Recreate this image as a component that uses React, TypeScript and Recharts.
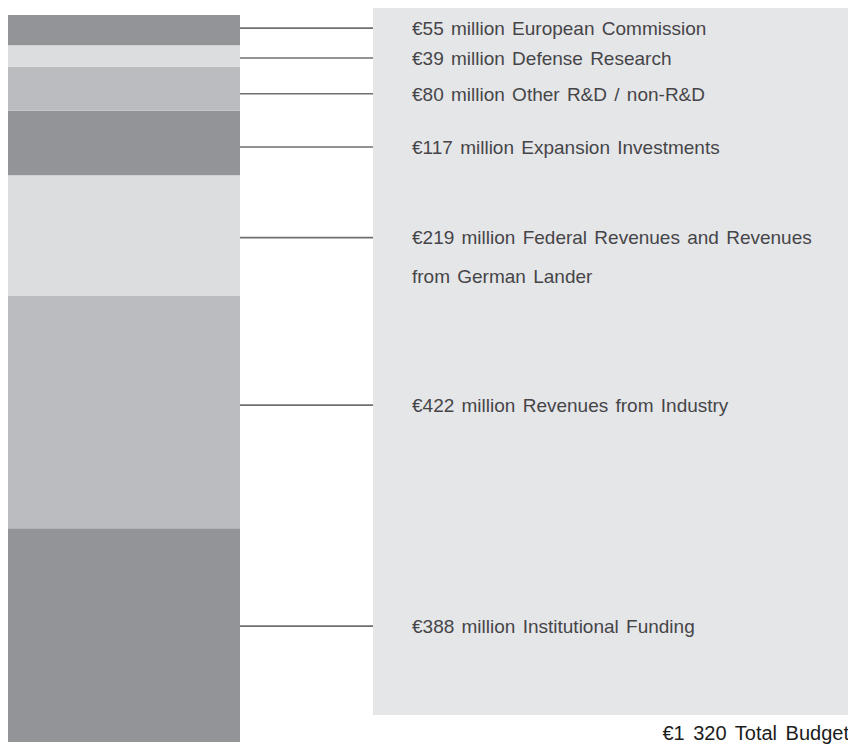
import React from "react";
import { BarChart, Bar, XAxis, YAxis } from "recharts";

// stacked from the bottom up
const sources = [
  "Institutional Funding",
  "Revenues from Industry",
  "Federal Revenues and Revenues\nfrom German Lander",
  "Expansion Investments",
  "Other R&D / non-R&D",
  "Defense Research",
  "European Commission",
];
const amounts = [388, 422, 219, 117, 80, 39, 55];
const shades = ["#939497", "#bbbcbf", "#dcdddf", "#939497", "#bbbcbf", "#dcdddf", "#939497"];
// small vertical shifts of the callouts, px (layout only)
const calloutShift = [-9, -7, 2, 4, 5, 2, -2];

const total = amounts.reduce((a, b) => a + b, 0);
const totalLabel = `€${String(total).replace(/\B(?=(\d{3})+(?!\d))/g, " ")} Total Budget`;

const row: Record<string, string | number> = { name: "Budget" };
amounts.forEach((v, i) => {
  row[`s${i}`] = v;
});
const data = [row];

const W = 856;
const H = 746;
const PANEL_X = 373;
const TEXT_X = 412;
const LABEL_FONT = "'Liberation Sans', Arial, sans-serif";

const makeLabel = (i: number) => (props: any) => {
  const x = Number(props.x);
  const y = Number(props.y);
  const w = Number(props.width);
  const h = Number(props.height);
  const cy = y + h / 2 + calloutShift[i];
  const lines = `€${amounts[i]} million ${sources[i]}`.split("\n");
  return (
    <g>
      <line x1={x + w} x2={PANEL_X} y1={cy} y2={cy} stroke="#6e6f71" strokeWidth={1.6} />
      {lines.map((t, k) => (
        <text
          key={k}
          x={TEXT_X}
          y={cy + k * 39}
          dy="0.36em"
          fill="#454548"
          fontSize={19}
          fontFamily={LABEL_FONT}
          wordSpacing={2}
        >
          {t}
        </text>
      ))}
    </g>
  );
};

export default function App() {
  return (
    <div style={{ position: "relative", width: W, height: H, margin: "-8px 0 0 -8px" }}>
      <div
        style={{
          position: "absolute",
          left: PANEL_X,
          top: 7,
          width: 480,
          height: 708,
          background: "#e5e6e8",
        }}
      />
      <div
        style={{
          position: "absolute",
          right: W - 849,
          top: 723,
          fontFamily: LABEL_FONT,
          fontSize: 20,
          lineHeight: "20px",
          color: "#1c1c1c",
          wordSpacing: 3,
          whiteSpace: "nowrap",
        }}
      >
        {totalLabel}
      </div>
      <div style={{ position: "absolute", left: 0, top: 0 }}>
        <BarChart
          width={W}
          height={H}
          data={data}
          margin={{ top: 15, right: W - 240, bottom: 4, left: 8 }}
          barCategoryGap={0}
        >
          <XAxis dataKey="name" hide />
          <YAxis hide domain={[0, total]} type="number" />
          {amounts.map((_, i) => (
            <Bar
              key={i}
              dataKey={`s${i}`}
              stackId="budget"
              fill={shades[i]}
              isAnimationActive={false}
              label={makeLabel(i)}
            />
          ))}
        </BarChart>
      </div>
    </div>
  );
}
